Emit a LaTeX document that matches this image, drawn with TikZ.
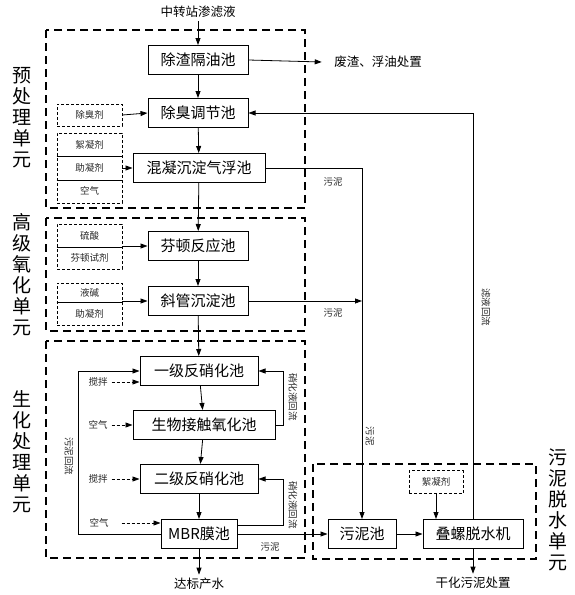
\documentclass[tikz,border=0pt]{standalone}
\usepackage{fontspec}
\setmainfont{Noto Sans CJK SC}
\usetikzlibrary{arrows.meta, positioning, calc}

\begin{document}
\begin{tikzpicture}[x=1pt, y=-1pt,
  proc/.style={draw, line width=1pt, minimum height=29pt, inner sep=2pt, font=\fontsize{15}{15}\selectfont},
  chem/.style={draw, dash pattern=on 3pt off 2pt, line width=0.7pt, minimum width=65pt},
  unit/.style={draw, line width=1.8pt, dash pattern=on 8pt off 5pt},
  arr/.style={-{Triangle[length=7pt,width=5pt]}, line width=0.8pt},
  darr/.style={arr, dash pattern=on 3pt off 2pt},
  small/.style={font=\fontsize{9.5}{10}\selectfont, inner sep=1pt, text=black!85},
  side/.style={font=\fontsize{19}{21}\selectfont, align=center},
  note/.style={font=\fontsize{12.5}{13}\selectfont},
]
  \useasboundingbox (0,0) rectangle (574,595);

  % unit frames
  \draw[unit] (46,30) rectangle (305,208);
  \draw[unit] (46,218) rectangle (305,331);
  \draw[unit] (46,341) rectangle (305,558);
  \draw[unit] (313,464) rectangle (536,559);

  \node[side] (preLbl) at (22,118) {预\\处\\理\\单\\元};
  \node[side] (aopLbl) at (22,275) {高\\级\\氧\\化\\单\\元};
  \node[side] (bioLbl) at (22,452) {生\\化\\处\\理\\单\\元};
  \node[side] (sldLbl) at (558,510) {污\\泥\\脱\\水\\单\\元};

  % main process line
  \node[note] (inflow) at (198,12) {中转站渗滤液};
  \node[proc, minimum width=100pt] (oil) at (198,60) {除渣隔油池};
  \node[proc, minimum width=100pt] (deodor) at (198,113) {除臭调节池};
  \node[proc, minimum width=132pt] (mix) at (199,168) {混凝沉淀气浮池};
  \node[proc, minimum width=100pt] (fenton) at (198,246) {芬顿反应池};
  \node[proc, minimum width=100pt] (tube) at (198,301) {斜管沉淀池};
  \node[proc, minimum width=118pt] (den1) at (199,371) {一级反硝化池};
  \node[proc, minimum width=142pt] (oxi) at (204,425) {生物接触氧化池};
  \node[proc, minimum width=118pt] (den2) at (199,479) {二级反硝化池};
  \node[proc, minimum width=76pt] (mbr) at (199,534) {MBR膜池};
  \node[note] (effluent) at (199,584) {达标产水};
  \node[note] (waste) at (378,62) {废渣、浮油处置};

  % sludge line
  \node[proc, minimum width=68pt] (sludge) at (362,534) {污泥池};
  \node[proc, minimum width=100pt] (dewater) at (473,534) {叠螺脱水机};
  \node[chem, minimum width=54pt, minimum height=23pt] (floc2) at (436,482) {};
  \node[small] (floc2Txt) at (436,482) {絮凝剂};
  \node[note] (cake) at (473,583) {干化污泥处置};

  % dosing boxes
  \node[chem, minimum height=22pt] (deoAgent) at (89.5,115) {};
  \node[small] (deoTxt) at (89.5,115) {除臭剂};
  \node[chem, minimum height=70pt] (grpMix) at (89.5,168) {};
  \draw (grpMix.west |- 0,156) -- (grpMix.east |- 0,156);
  \draw (grpMix.west |- 0,180) -- (grpMix.east |- 0,180);
  \node[small] (flocTxt) at (89.5,145) {絮凝剂};
  \node[small] (aidTxt) at (89.5,168) {助凝剂};
  \node[small] (airTxt) at (89.5,191) {空气};
  \node[chem, minimum height=45pt] (grpFen) at (89.5,246.5) {};
  \draw (grpFen.west |- 0,247) -- (grpFen.east |- 0,247);
  \node[small] (acidTxt) at (89.5,236) {硫酸};
  \node[small] (fenTxt) at (89.5,258) {芬顿试剂};
  \node[chem, minimum height=42pt] (grpTube) at (89.5,304) {};
  \draw (grpTube.west |- 0,302) -- (grpTube.east |- 0,302);
  \node[small] (alkTxt) at (89.5,293) {液碱};
  \node[small] (aid2Txt) at (89.5,314) {助凝剂};

  \node[small] (stir1) at (98,382) {搅拌};
  \node[small] (air1) at (98,425) {空气};
  \node[small] (stir2) at (98,479) {搅拌};
  \node[small] (air2) at (99,523) {空气};

  % main flow
  \draw[arr] (inflow) -- (oil);
  \draw[arr] (oil) -- (deodor);
  \draw[arr] (deodor) -- (mix);
  \draw[arr] (mix) -- (fenton);
  \draw[arr] (fenton) -- (tube);
  \draw[arr] (tube) -- (den1);
  \draw[arr] (den1) -- (oxi);
  \draw[arr] (oxi) -- (den2);
  \draw[arr] (den2) -- (mbr);
  \draw[arr] (mbr) -- (effluent);
  \draw[arr] (oil.east) -- ([xshift=-9pt]waste.west);

  \draw[arr] (deoAgent.east) -- (deodor.west);
  \draw[arr] (grpMix.east) -- (mix.west);
  \draw[arr] (grpFen.east |- fenton.west) -- (fenton.west);
  \draw[arr] (grpTube.east |- tube.west) -- (tube.west);

  \draw[darr] ([xshift=3pt]stir1.east) -- (stir1.east -| den1.west);
  \draw[darr] ([xshift=3pt]air1.east) -- (air1.east -| oxi.west);
  \draw[darr] ([xshift=3pt]stir2.east) -- (stir2.east -| den2.west);
  \draw[darr] ([xshift=12pt]air2.east) -- (air2.east -| mbr.west);

  % sludge and returns
  \draw[arr] (mix.east) -| (sludge.north);
  \draw[arr] (tube.east) -- (tube.east -| sludge.north);
  \node[small] (sl1) at (333,182) {污泥};
  \node[small] (sl2) at (333,313) {污泥};
  \node[small, rotate=-90] (sl3) at (370,436) {污泥};
  \draw[arr] (mbr.east) -- (sludge.west);
  \node[small] (sl4) at (270,547) {污泥};
  \draw[arr] (sludge) -- (dewater);
  \draw[arr] (floc2) -- (dewater.north -| floc2);
  \draw[arr] (dewater.south) -- (cake.north);

  \draw[arr] (dewater.north) |- (deodor.east);
  \node[small, rotate=-90] (filtRet) at (486,307) {滤液回流};

  \coordinate (retL) at (78,534);
  \draw[arr] (mbr.west) -- (retL) |- (den1.west);
  \node[small, rotate=-90] (sludgeRet) at (69,456) {污泥回流};

  \coordinate (nitR1) at (283,425);
  \draw[arr] (oxi.east) -- (nitR1) |- (den1.east);
  \node[small, rotate=-90] (nitLbl1) at (293,397) {硝化液回流};
  \coordinate (nitR2) at (283,525);
  \draw[arr] (mbr.east |- nitR2) -- (nitR2) |- (den2.east);
  \node[small, rotate=-90] (nitLbl2) at (293,505) {硝化液回流};
\end{tikzpicture}
\end{document}
